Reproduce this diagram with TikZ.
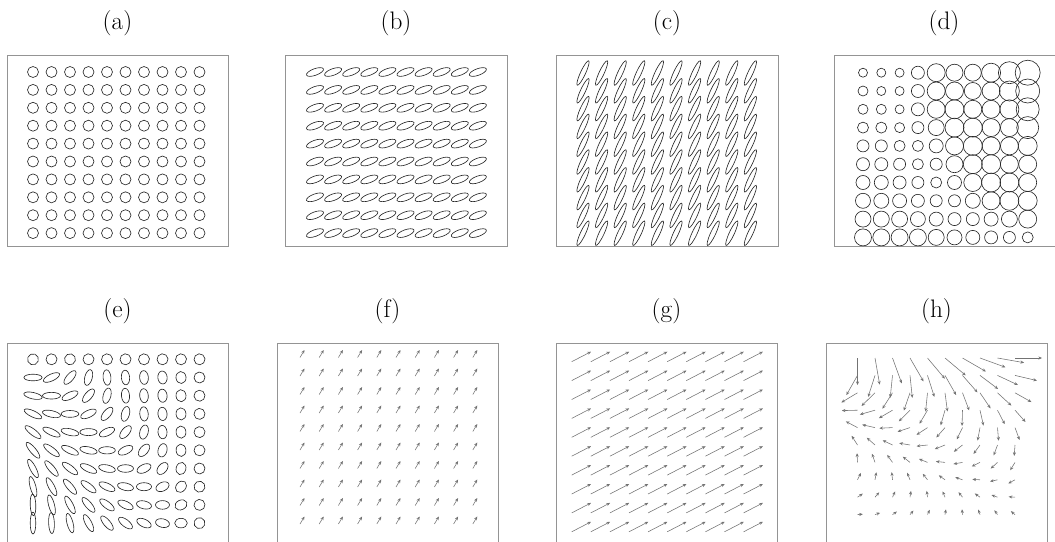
\documentclass[tikz,border=0pt]{standalone}
\usepackage{tikz}
\usetikzlibrary{arrows.meta}

\begin{document}
\begin{tikzpicture}[
  x=0.025cm, y=-0.025cm,
  lbl/.style={font=\fontsize{18}{20}\selectfont, inner sep=0pt},
  frame/.style={draw=black!42, line width=0.6pt},
  glyph/.style={draw=black!85, line width=0.45pt},
  vec/.style={draw=black!55, line width=0.4pt,
    -{Stealth[length=2.6pt,width=2.2pt]}},
]
\useasboundingbox (0,0) rectangle (1055,541);
\clip (0,0) rectangle (1055,541);

% panel labels
\node[lbl] (la) at (117.5,23) {(a)};
\node[lbl] (lb) at (396,23) {(b)};
\node[lbl] (lc) at (667,23) {(c)};
\node[lbl] (ld) at (944,23) {(d)};
\node[lbl] (le) at (117.5,311) {(e)};
\node[lbl] (lf) at (387.5,311) {(f)};
\node[lbl] (lg) at (666.5,311) {(g)};
\node[lbl] (lh) at (936.5,311) {(h)};

% frames
\draw[frame] (7,55) rectangle (228,246);
\draw[frame] (285,55) rectangle (507,246);
\draw[frame] (556,55) rectangle (778,246);
\draw[frame] (834,55) rectangle (1057,246);
\draw[frame] (7,343) rectangle (228,560);
\draw[frame] (277,343) rectangle (498,560);
\draw[frame] (556,343) rectangle (777,560);
\draw[frame] (826,343) rectangle (1047,560);

% (a) unit circles
\foreach \j in {0,...,9}
  \foreach \i in {0,...,9}
    \draw[glyph] (33+18.5*\i,72+17.9*\j) circle[radius=5.5];

% (b) mild anisotropy
\foreach \j in {0,...,9}
  \foreach \i in {0,...,9}
    \draw[glyph,shift={(315+18.1*\i,72+17.9*\j)},rotate=20]
      (0,0) ellipse[x radius=9, y radius=3.3];

% (c) strong anisotropy
\foreach \j in {0,...,9}
  \foreach \i in {0,...,9}
    \draw[glyph,shift={(583+18.6*\i,73+17.8*\j)},rotate=65]
      (0,0) ellipse[x radius=13.5, y radius=2.5];

% (d) varying scale
\foreach \j/\radii in {
  0/{4.5,4.5,4.5,6.5,9,8.5,8.5,9.5,11,12.5},
  1/{5,4.5,4.5,6.5,9,9,8.5,9,10,12},
  2/{5,5,4.5,6.5,9,9.5,9,9,9.5,11.5},
  3/{5.5,5.5,5,6,8,9.5,9.5,9,9,11},
  4/{6,6,5.5,5.5,7,9,9.5,9,9,9.5},
  5/{6.5,6.5,6,5.5,6,8.5,9.5,9.5,9,9},
  6/{7,7,6.5,6,5.5,7,9,9.5,9.5,9},
  7/{7.5,7.5,7,6.5,6,6,7.5,9,9.5,9.5},
  8/{8,8,8,7.5,7,6.5,6.5,7,8,9},
  9/{8.5,8.5,8.5,8.5,8,7.5,7,6.5,6,5.5}}
  \foreach \r [count=\c from 0] in \radii
    \draw[glyph] (863+18.3*\c,72.7+18.3*\j) circle[radius=\r];

% (e) varying tensor field
\foreach \j in {0,...,9}
  \foreach \i in {0,...,9}{
    \pgfmathsetmacro{\dd}{\j-\i-1}
    \pgfmathsetmacro{\ang}{\dd>0 ? max(-90,-12.5*\dd) : min(95,-25*\dd)}
    \pgfmathsetmacro{\st}{\j==0 ? 1 : 1+(1.6+0.15*\j)*(1-\i/9)}
    \pgfmathsetmacro{\ra}{5.5*sqrt(\st)}
    \pgfmathsetmacro{\rb}{5.5/sqrt(\st)}
    \draw[glyph,shift={(33+18.5*\i,359.3+18.2*\j)},rotate=\ang]
      (0,0) ellipse[x radius=\ra, y radius=\rb];
  }

% (f) small constant vectors
\foreach \j in {0,...,9}
  \foreach \i in {0,...,9}
    \draw[vec] (300+19.2*\i,357.5+18.5*\j) -- ++(4.5,-7.5);

% (g) larger constant vectors
\foreach \j in {0,...,9}
  \foreach \i in {0,...,9}
    \draw[vec] (571.7+19.1*\i,361.7+18.9*\j) -- ++(19.3,-10);

% (h) varying vector field
\foreach \j in {0,...,9}
  \foreach \i in {0,...,9}{
    \pgfmathsetmacro{\pl}{-90-29.5*\j}
    \pgfmathsetmacro{\pr}{-11.9*\j-1.39*\j*\j}
    \pgfmathsetmacro{\ph}{\pl*(1-\i/9)+\pr*\i/9}
    \pgfmathsetmacro{\m}{27*exp(-0.18*\j)}
    \draw[vec] (857.5+17.5*\i,358+17.4*\j)
      -- ++({\m*cos(\ph)},{-\m*sin(\ph)});
  }
\end{tikzpicture}
\end{document}
